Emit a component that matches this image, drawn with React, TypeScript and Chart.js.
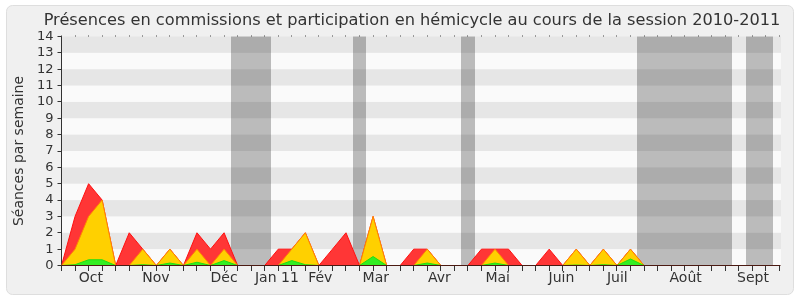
import React, { useEffect, useRef } from 'react';
import { Chart, registerables } from 'chart.js';

Chart.register(...registerables);

const TITLE = 'Présences en commissions et participation en hémicycle au cours de la session 2010-2011';
const Y_TITLE = 'Séances par semaine';

// week index of the session (0 = first week of October 2010)
const WEEKS = [
  0, 1, 2, 3, 4, 5, 6, 7, 8, 9, 10, 11, 12, 13, 14, 15, 16, 17, 18, 19, 20, 21, 22, 23, 24, 25, 26,
  27, 28, 29, 30, 31, 32, 33, 34, 35, 36, 37, 38, 39, 40, 41, 42, 43, 44, 45, 46, 47, 48, 49, 50,
  51, 52, 53,
];

// total presences (commissions + hémicycle) per week
const PRESENCES_TOTAL = [
  0, 3, 5, 4, 0, 2, 1, 0, 1, 0, 2, 1, 2, 0, 0, 0, 1, 1, 2, 0, 1, 2, 0, 3, 0, 0, 1, 1, 0, 0, 0, 1, 1,
  1, 0, 0, 1, 0, 1, 0, 1, 0, 1, 0, 0, 0, 0, 0, 0, 0, 0, 0, 0, 0,
];
// presences in hémicycle per week
const PRESENCES_HEMICYCLE = [
  0, 1, 3, 4, 0, 0, 1, 0, 1, 0, 1, 0, 1, 0, 0, 0, 0, 1, 2, 0, 0, 0, 0, 3, 0, 0, 0, 1, 0, 0, 0, 0, 1,
  0, 0, 0, 0, 0, 1, 0, 1, 0, 1, 0, 0, 0, 0, 0, 0, 0, 0, 0, 0, 0,
];
// participations in hémicycle per week
const PARTICIPATIONS = [
  0, 0.05, 0.35, 0.35, 0, 0, 0.05, 0, 0.15, 0, 0.2, 0, 0.3, 0, 0, 0, 0, 0.3, 0.05, 0, 0, 0, 0, 0.55,
  0, 0, 0, 0.15, 0, 0, 0, 0, 0.15, 0, 0, 0, 0, 0, 0.03, 0, 0.05, 0, 0.4, 0, 0, 0, 0, 0, 0, 0, 0, 0,
  0, 0,
];

// parliamentary holidays (in week units)
const VACATION_START = [12.5, 21.5, 29.5, 42.5, 50.5];
const VACATION_END = [15.5, 22.5, 30.5, 49.5, 52.5];

// month labels and their positions (in week units)
const MONTH_LABELS = ['Oct', 'Nov', 'Déc', 'Jan 11', 'Fév', 'Mar', 'Avr', 'Mai', 'Juin', 'Juil', 'Août', 'Sept'];
const MONTH_POS = [2.17, 6.97, 12.0, 15.9, 19.1, 23.2, 27.9, 32.2, 36.9, 41.03, 46.07, 51.04];

// y values where the darker horizontal stripes start (each one unit high)
const STRIPE_START = [1, 3, 5, 7, 9, 11, 13];

const Y_MAX = 14;
const FONT = '"DejaVu Sans", sans-serif';

function roundRect(ctx: CanvasRenderingContext2D, x: number, y: number, w: number, h: number, r: number) {
  ctx.beginPath();
  ctx.moveTo(x + r, y);
  ctx.lineTo(x + w - r, y);
  ctx.arcTo(x + w, y, x + w, y + r, r);
  ctx.lineTo(x + w, y + h - r);
  ctx.arcTo(x + w, y + h, x + w - r, y + h, r);
  ctx.lineTo(x + r, y + h);
  ctx.arcTo(x, y + h, x, y + h - r, r);
  ctx.lineTo(x, y + r);
  ctx.arcTo(x, y, x + r, y, r);
  ctx.closePath();
}

const decorPlugin = {
  id: 'decor',
  beforeDraw(chart: any) {
    const { ctx, chartArea: a, scales } = chart;
    const x = scales.x;
    const y = scales.y;
    ctx.save();
    ctx.fillStyle = '#ffffff';
    ctx.fillRect(0, 0, chart.width, chart.height);
    roundRect(ctx, 6.5, 5.5, 787, 289, 6);
    ctx.fillStyle = '#f0f0f0';
    ctx.fill();
    ctx.strokeStyle = '#dedede';
    ctx.lineWidth = 1;
    ctx.stroke();

    const right = a.right + 1.5;
    ctx.fillStyle = '#fafafa';
    ctx.fillRect(a.left, a.top, right - a.left, a.bottom - a.top);

    ctx.fillStyle = '#bbbbbb';
    VACATION_START.forEach((s, i) => {
      const x0 = Math.round(x.getPixelForValue(s));
      const x1 = Math.round(x.getPixelForValue(VACATION_END[i]));
      ctx.fillRect(x0, a.top, x1 - x0, a.bottom - a.top);
    });

    ctx.fillStyle = 'rgba(0,0,0,0.08)';
    STRIPE_START.forEach((s) => {
      const y0 = y.getPixelForValue(s + 1);
      const y1 = y.getPixelForValue(s);
      ctx.fillRect(a.left, y0, right - a.left, y1 - y0);
    });

    ctx.fillStyle = '#333333';
    ctx.font = '16.2px ' + FONT;
    ctx.textAlign = 'center';
    ctx.textBaseline = 'alphabetic';
    ctx.fillText(TITLE, 412, 25);
    ctx.restore();
  },
  afterDatasetsDraw(chart: any) {
    const { ctx, chartArea: a, scales } = chart;
    const x = scales.x;
    ctx.save();
    ctx.lineWidth = 1;
    ctx.strokeStyle = '#4b1a12';
    ctx.beginPath();
    ctx.moveTo(a.left, a.bottom);
    ctx.lineTo(a.right + 1, a.bottom);
    ctx.stroke();

    ctx.strokeStyle = '#333333';
    ctx.fillStyle = '#444444';
    WEEKS.forEach((w) => {
      const px = Math.floor(x.getPixelForValue(w)) + 0.5;
      ctx.beginPath();
      ctx.moveTo(px, a.bottom + 0.5);
      ctx.lineTo(px, a.bottom + 5.5);
      ctx.stroke();
      ctx.fillRect(px - 0.5, a.top - 1, 1, 1);
    });
    ctx.restore();
  },
};

export default function App() {
  const ref = useRef<HTMLCanvasElement | null>(null);

  useEffect(() => {
    document.body.style.margin = '0';
    const canvas = ref.current;
    if (!canvas) return;
    Chart.defaults.font.family = FONT;

    const toPoints = (arr: number[]) => WEEKS.map((w, i) => ({ x: w, y: arr[i] }));

    const chart = new Chart(canvas, {
      type: 'line',
      data: {
        datasets: [
          {
            label: 'Participations',
            data: toPoints(PARTICIPATIONS),
            borderColor: '#22dd11',
            backgroundColor: '#33ee22',
            borderWidth: 1,
            fill: 'origin',
            pointRadius: 0,
            tension: 0,
          },
          {
            label: 'Présences hémicycle',
            data: toPoints(PRESENCES_HEMICYCLE),
            borderColor: '#ff8800',
            backgroundColor: '#ffd000',
            borderWidth: 1,
            fill: 'origin',
            pointRadius: 0,
            tension: 0,
          },
          {
            label: 'Présences totales',
            data: toPoints(PRESENCES_TOTAL),
            borderColor: '#ff1010',
            backgroundColor: '#ff3636',
            borderWidth: 1,
            fill: 'origin',
            pointRadius: 0,
            tension: 0,
          },
        ],
      },
      options: {
        responsive: false,
        animation: false,
        devicePixelRatio: 1,
        events: [],
        layout: { padding: { top: 36.5, right: 20.5, bottom: 0, left: 0 } },
        plugins: {
          legend: { display: false },
          tooltip: { enabled: false },
          title: { display: false },
        },
        scales: {
          x: {
            type: 'linear',
            min: WEEKS[0],
            max: WEEKS[WEEKS.length - 1],
            afterBuildTicks: (axis: any) => {
              axis.ticks = MONTH_POS.map((v) => ({ value: v }));
            },
            afterFit: (axis: any) => {
              axis.height = 34.5;
            },
            grid: { display: false, drawTicks: false },
            border: { display: false },
            ticks: {
              autoSkip: false,
              maxRotation: 0,
              minRotation: 0,
              padding: 4,
              color: '#333333',
              font: { size: 14, family: FONT },
              callback: (_v: any, i: number) => MONTH_LABELS[i],
            },
          },
          y: {
            type: 'linear',
            min: 0,
            max: Y_MAX,
            afterFit: (axis: any) => {
              axis.width = 61.5;
            },
            grid: { drawOnChartArea: false, drawTicks: true, tickLength: 4, color: '#333333' },
            border: { display: true, color: '#333333' },
            ticks: {
              stepSize: 1,
              autoSkip: false,
              padding: 4,
              color: '#333333',
              font: { size: 13, family: FONT },
            },
            title: {
              display: true,
              text: Y_TITLE,
              color: '#333333',
              font: { size: 14, family: FONT },
              padding: { top: 10.8, bottom: 0 },
            },
          },
        },
      },
      plugins: [decorPlugin],
    });
    return () => chart.destroy();
  }, []);

  return (
    <div style={{ width: 800, height: 300 }}>
      <canvas ref={ref} width={800} height={300} style={{ display: 'block' }} />
    </div>
  );
}
